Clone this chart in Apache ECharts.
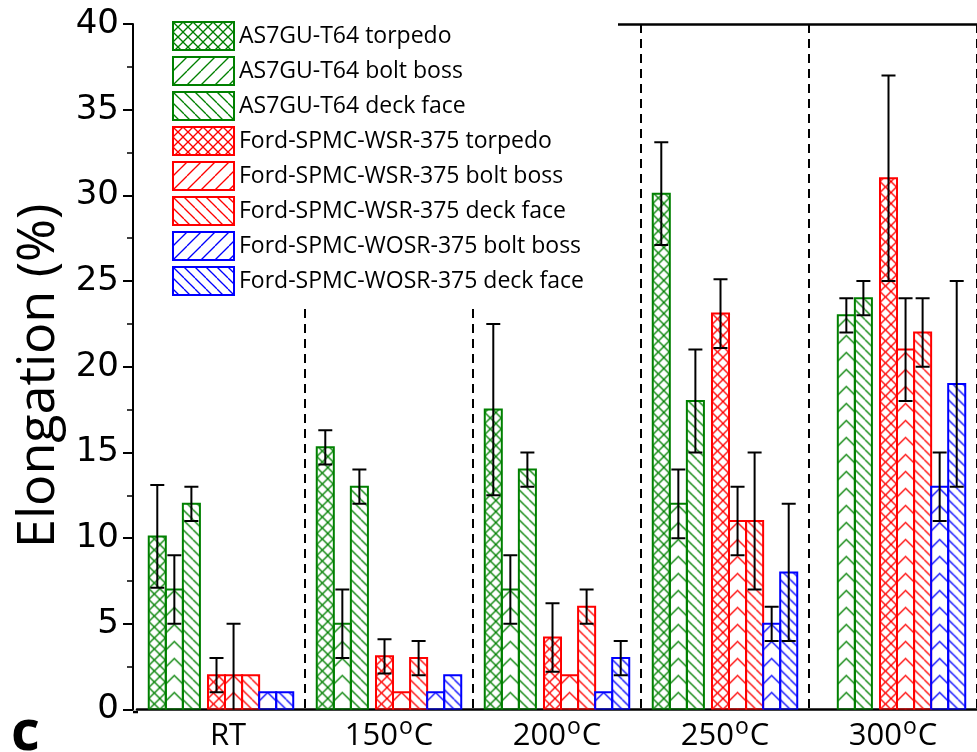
<!DOCTYPE html>
<html>
<head>
<meta charset="utf-8">
<script src="https://cdn.jsdelivr.net/npm/echarts@6/dist/echarts.min.js"></script>
<style>
  html, body { margin: 0; padding: 0; background: #fff; }
  #chart { width: 977px; height: 752px; }
</style>
</head>
<body>
<div id="chart"></div>
<script>
// Test temperatures
const categories = ['RT', '150°C', '200°C', '250°C', '300°C'];

// Elongation (%) and its standard deviation per alloy / casting location
const as7guTorpedo      = [10.1, 15.3, 17.5, 30.1, null];
const as7guTorpedoErr   = [3, 1, 5, 3, null];
const as7guBoltBoss     = [7, 5, 7, 12, 23];
const as7guBoltBossErr  = [2, 2, 2, 2, 1];
const as7guDeckFace     = [12, 13, 14, 18, 24];
const as7guDeckFaceErr  = [1, 1, 1, 3, 1];
const wsrTorpedo        = [2, 3.1, 4.2, 23.1, 31];
const wsrTorpedoErr     = [1, 1, 2, 2, 6];
const wsrBoltBoss       = [2, 1, 2, 11, 21];
const wsrBoltBossErr    = [3, 0, 0, 2, 3];
const wsrDeckFace       = [2, 3, 6, 11, 22];
const wsrDeckFaceErr    = [0, 1, 1, 4, 2];
const wosrBoltBoss      = [1, 1, 1, 5, 13];
const wosrBoltBossErr   = [0, 0, 0, 1, 2];
const wosrDeckFace      = [1, 2, 3, 8, 19];
const wosrDeckFaceErr   = [0, 0, 1, 4, 6];

const seriesNames = [
  'AS7GU-T64 torpedo',
  'AS7GU-T64 bolt boss',
  'AS7GU-T64 deck face',
  'Ford-SPMC-WSR-375 torpedo',
  'Ford-SPMC-WSR-375 bolt boss',
  'Ford-SPMC-WSR-375 deck face',
  'Ford-SPMC-WOSR-375 bolt boss',
  'Ford-SPMC-WOSR-375 deck face'
];
const seriesValues = [as7guTorpedo, as7guBoltBoss, as7guDeckFace, wsrTorpedo,
  wsrBoltBoss, wsrDeckFace, wosrBoltBoss, wosrDeckFace];
const seriesErrors = [as7guTorpedoErr, as7guBoltBossErr, as7guDeckFaceErr, wsrTorpedoErr,
  wsrBoltBossErr, wsrDeckFaceErr, wosrBoltBossErr, wosrDeckFaceErr];

// ---- look ----
const GREEN = '#008000', RED = '#ff0000', BLUE = '#0000ff';
const seriesLook = [
  { color: GREEN, hatch: 'cross' }, { color: GREEN, hatch: 'fwd' }, { color: GREEN, hatch: 'back' },
  { color: RED, hatch: 'cross' },   { color: RED, hatch: 'fwd' },   { color: RED, hatch: 'back' },
  { color: BLUE, hatch: 'fwd' },    { color: BLUE, hatch: 'back' }
];
const FONT = "'Open Sans', 'Noto Sans', sans-serif";

// bar layout inside one category band
const BAR = 0.1015;
const GROUP_GAP = 0.048;
const GROUP_START = -(8 * BAR + GROUP_GAP) / 2;
function slotOffset(i) { return GROUP_START + i * BAR + (i >= 3 ? GROUP_GAP : 0); }

// ---- hatch tiles ----
function tile(w, h, color, lw, draw) {
  const c = document.createElement('canvas');
  c.width = w; c.height = h;
  const ctx = c.getContext('2d');
  ctx.strokeStyle = color; ctx.lineWidth = lw; ctx.lineCap = 'butt';
  draw(ctx, w, h);
  return c;
}
function diag(ctx, p, dir) {
  for (const o of [-p, 0, p]) {
    ctx.beginPath();
    if (dir > 0) { ctx.moveTo(o, p); ctx.lineTo(o + p, 0); }
    else { ctx.moveTo(o, 0); ctx.lineTo(o + p, p); }
    ctx.stroke();
  }
}
function hatchTile(kind, color, p, lw) {
  return tile(p, p, color, lw, function (ctx) {
    if (kind === 'cross') { diag(ctx, p, 1); diag(ctx, p, -1); }
    else diag(ctx, p, kind === 'fwd' ? 1 : -1);
  });
}
function chevronTile(color, w, lw) {
  const h = w;
  return tile(w, h, color, lw, function (ctx) {
    for (const o of [-h, 0, h]) {
      ctx.beginPath();
      ctx.moveTo(0, o + h / 2); ctx.lineTo(w / 2, o); ctx.lineTo(w, o + h / 2);
      ctx.stroke();
    }
  });
}
const tileCache = {};
function barTile(kind, color, w) {
  const key = kind + color + Math.round(w);
  if (!tileCache[key]) {
    if (kind === 'cross') tileCache[key] = hatchTile('cross', color, 11, 1.3);
    else if (kind === 'back') tileCache[key] = hatchTile('back', color, 10, 1.3);
    else tileCache[key] = chevronTile(color, Math.round(w), 1.3);
  }
  return tileCache[key];
}
function legendTile(kind, color) {
  if (kind === 'cross') return hatchTile('cross', color, 10, 1.3);
  if (kind === 'fwd') return hatchTile('fwd', color, 14, 1.3);
  return hatchTile('back', color, 11, 1.3);
}

// ---- bar + error bar drawing ----
function makeRenderer(si) {
  return function (params, api) {
    const ci = api.value(0), v = api.value(1), e = api.value(2) || 0;
    const band = api.size([1, 0])[0];
    const w = band * BAR;
    const left = api.coord([ci, 0])[0] + band * slotOffset(si);
    const base = api.coord([ci, 0])[1];
    const top = api.coord([ci, v])[1];
    const look = seriesLook[si];
    const children = [{
      type: 'rect',
      shape: { x: left, y: top, width: w, height: base - top },
      style: {
        fill: { image: barTile(look.hatch, look.color, w), repeat: 'repeat', x: left, y: base },
        stroke: look.color, lineWidth: 2
      }
    }];
    if (e > 0) {
      const mid = left + w / 2, cap = 7;
      const hi = api.coord([ci, v + e])[1];
      const lo = api.coord([ci, v - e])[1];
      const s = { stroke: '#000', lineWidth: 2 };
      children.push(
        { type: 'line', shape: { x1: mid, y1: hi, x2: mid, y2: lo }, style: s },
        { type: 'line', shape: { x1: mid - cap, y1: hi, x2: mid + cap, y2: hi }, style: s },
        { type: 'line', shape: { x1: mid - cap, y1: lo, x2: mid + cap, y2: lo }, style: s }
      );
    }
    return { type: 'group', children: children };
  };
}

const series = seriesNames.map(function (name, si) {
  const data = [];
  seriesValues[si].forEach(function (v, ci) {
    if (v != null) data.push([ci, v, seriesErrors[si][ci] || 0]);
  });
  return {
    type: 'custom',
    name: name,
    renderItem: makeRenderer(si),
    encode: { x: 0, y: 1 },
    clip: true,
    itemStyle: { color: seriesLook[si].color },
    data: data
  };
});

const legendData = seriesNames.map(function (name, si) {
  return {
    name: name,
    icon: 'rect',
    itemStyle: {
      color: { image: legendTile(seriesLook[si].hatch, seriesLook[si].color), repeat: 'repeat' },
      borderColor: seriesLook[si].color,
      borderWidth: 2
    }
  };
});

const chart = echarts.init(document.getElementById('chart'), null, { renderer: 'canvas' });
chart.setOption({
  animation: false,
  backgroundColor: '#fff',
  grid: { left: 137, right: -3.75, top: 24, bottom: 40, containLabel: false },
  legend: {
    orient: 'vertical',
    left: 167, top: 16,
    itemWidth: 61, itemHeight: 28, itemGap: 5,
    selectedMode: false,
    z: 10,
    textStyle: { fontFamily: FONT, fontSize: 23, color: '#000' },
    data: legendData
  },
  xAxis: [{
    type: 'category',
    data: categories,
    boundaryGap: true,
    axisLine: { lineStyle: { color: '#000', width: 2.5 } },
    axisTick: { show: false },
    axisLabel: {
      margin: 6,
      formatter: function (val) {
        const m = /^(\d+)°C$/.exec(val);
        return m ? '{n|' + m[1] + '}{s|o}{n|C}' : '{lead| }{n|' + val + '}';
      },
      rich: {
        n: { fontFamily: FONT, fontSize: 31, color: '#000' },
        s: { fontFamily: FONT, fontSize: 23, color: '#000', padding: [0, 1, 19, 1] },
        lead: { fontFamily: FONT, fontSize: 23, width: 14, padding: [0, 0, 19, 0] }
      }
    },
    splitLine: {
      show: true,
      interval: function (index) { return index > 0; },
      lineStyle: { color: '#000', width: 2, type: [9, 6] }
    }
  }, {
    type: 'category',
    data: categories,
    position: 'top',
    axisLine: { lineStyle: { color: '#000', width: 2.5 } },
    axisTick: { show: false },
    axisLabel: { show: false },
    splitLine: { show: false }
  }],
  yAxis: {
    type: 'value',
    min: 0, max: 40, interval: 5,
    offset: 4,
    name: 'Elongation (%)',
    nameLocation: 'middle',
    nameGap: 62,
    nameTextStyle: { fontFamily: FONT, fontSize: 52, color: '#000', padding: [0, 18, 0, 0] },
    axisLine: { show: true, lineStyle: { color: '#000', width: 2 } },
    axisTick: { show: true, inside: false, length: 10, lineStyle: { color: '#000', width: 2 } },
    minorTick: { show: true, splitNumber: 2, length: 6, lineStyle: { color: '#000', width: 1.5 } },
    axisLabel: { margin: 14, fontFamily: "'DejaVu Sans', sans-serif", fontSize: 34, color: '#000' },
    splitLine: { show: false }
  },
  graphic: {
    elements: [
      { type: 'rect', z: 3, shape: { x: 135, y: 0, width: 483, height: 306 }, style: { fill: '#fff' } },
      { type: 'line', z: 3, shape: { x1: 133, y1: 712, x2: 138, y2: 712 }, style: { stroke: '#000', lineWidth: 2.5 } },
      { type: 'text', z: 3, left: 11, top: 706, style: { text: 'c', font: "bold 56px 'Open Sans', sans-serif", fill: '#000' } }
    ]
  },
  series: series
});
</script>
</body>
</html>
